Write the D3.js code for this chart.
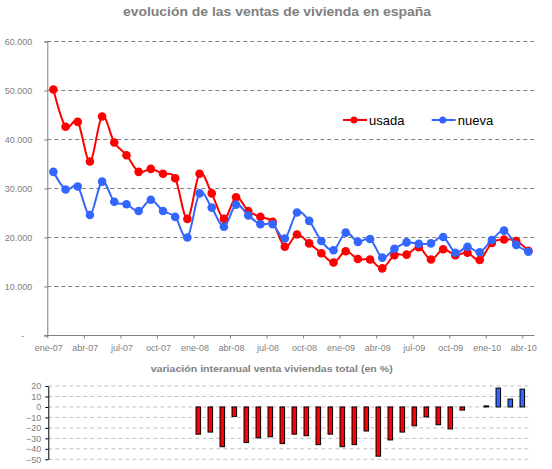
<!DOCTYPE html>
<html>
<head>
<meta charset="utf-8">
<script src="https://cdn.jsdelivr.net/npm/d3@7"></script>
<style>
  body { margin: 0; background: #fff; }
  svg text { font-family: "Liberation Sans", Arial, sans-serif; }
</style>
</head>
<body>
<div id="chart"></div>
<script>
var months = ["ene-07","feb-07","mar-07","abr-07","may-07","jun-07","jul-07","ago-07","sep-07","oct-07","nov-07","dic-07",
  "ene-08","feb-08","mar-08","abr-08","may-08","jun-08","jul-08","ago-08","sep-08","oct-08","nov-08","dic-08",
  "ene-09","feb-09","mar-09","abr-09","may-09","jun-09","jul-09","ago-09","sep-09","oct-09","nov-09","dic-09",
  "ene-10","feb-10","mar-10","abr-10"]

var usada = [50200, 42600, 43600, 35500, 44700, 39400, 36800, 33400, 34000, 33000, 32100, 23800,
  33000, 29000, 23800, 28200, 25400, 24200, 23200, 18100, 20600, 18800, 16800, 14900,
  17200, 15600, 15500, 13700, 16400, 16500, 18000, 15500, 17600, 16400, 16900, 15400,
  18900, 19600, 19300, 17300]

var nueva = [33400, 29800, 30400, 24600, 31400, 27300, 26800, 25400, 27700, 25400, 24200, 20000,
  29000, 26100, 22200, 26700, 24500, 22700, 22700, 19800, 25100, 23400, 19300, 17400,
  21000, 19100, 19700, 15900, 17700, 19000, 18700, 18800, 20100, 16900, 18100, 17000,
  19500, 21400, 18500, 17100]

// variación interanual (%), empieza en ene-08
var variacion = [null, null, null, null, null, null, null, null, null, null, null, null,
  -26, -24, -38, -9, -34, -29.5, -28.5, -35, -26, -27.5, -36, -26,
  -38, -36, -23, -47, -31.5, -24, -18, -9.5, -17, -21, -3, 0,
  1, 18, 7.5, 17]

var yTicks = [0, 10000, 20000, 30000, 40000, 50000, 60000]
var varTicks = [20, 10, 0, -10, -20, -30, -40, -50]
var seriesNames = ["usada", "nueva"]
var seriesColors = ["#ff0000", "#3366ff"]

var width = 552, height = 469

var svg = d3.select("#chart").append("svg")
  .attr("width", width)
  .attr("height", height)

var es = d3.formatLocale({ decimal: ",", thousands: ".", grouping: [3], currency: ["", ""] })
var fmt = es.format(",.0f")

// ---------- top chart ----------
var x = d3.scaleLinear().domain([0, months.length]).range([47.3, 534.5])
var y = d3.scaleLinear().domain([0, 60000]).range([335.5, 41.5])

svg.append("text")
  .attr("x", 277).attr("y", 16)
  .attr("text-anchor", "middle")
  .attr("textLength", 308)
  .attr("lengthAdjust", "spacingAndGlyphs")
  .style("font-size", "12px").style("font-weight", "bold")
  .style("fill", "#808080")
  .text("evolución de las ventas de vivienda en españa")

svg.append("g")
  .selectAll("line")
  .data(yTicks.filter(function (d) { return d > 0 }))
  .enter().append("line")
  .attr("x1", x(0)).attr("x2", x(months.length))
  .attr("y1", function (d) { return y(d) }).attr("y2", function (d) { return y(d) })
  .attr("stroke", "#808080")
  .attr("stroke-dasharray", "4,3")

var yAxis = svg.append("g")
  .attr("transform", "translate(" + x(0) + ",0)")
  .call(d3.axisLeft(y).tickValues(yTicks).tickSize(3).tickPadding(12)
    .tickFormat(function (d) { return d === 0 ? "-" : fmt(d) }))
yAxis.select(".domain").attr("stroke", "#808080")
yAxis.selectAll(".tick line").attr("stroke", "#808080")
yAxis.selectAll(".tick text").style("font-size", "9px").style("fill", "#808080").style("font-family", "Liberation Sans, Arial, sans-serif")
yAxis.selectAll(".tick text").filter(function (d) { return d === 0 }).attr("dx", -8)

var xAxis = svg.append("g")
  .attr("transform", "translate(0," + y(0) + ")")
  .call(d3.axisBottom(x).tickValues(d3.range(0, months.length, 3)).tickSizeInner(3).tickSizeOuter(0).tickPadding(6)
    .tickFormat(function (d) { return months[d] }))
xAxis.select(".domain").attr("stroke", "#808080").attr("d", "M" + (x(0) - 3) + ",0H" + x(months.length))
xAxis.selectAll(".tick line").attr("stroke", "#808080")
xAxis.selectAll(".tick text").attr("dx", 1).style("font-size", "9px").style("fill", "#808080").style("font-family", "Liberation Sans, Arial, sans-serif")

var line = d3.line()
  .x(function (d, i) { return x(i + 0.5) })
  .y(function (d) { return y(d) })
  .curve(d3.curveCatmullRom.alpha(0))

;[usada, nueva].forEach(function (values, s) {
  var g = svg.append("g")
  g.append("path")
    .attr("d", line(values))
    .attr("fill", "none")
    .attr("stroke", seriesColors[s])
    .attr("stroke-width", 2)
  g.selectAll("circle")
    .data(values)
    .enter().append("circle")
    .attr("cx", function (d, i) { return x(i + 0.5) })
    .attr("cy", function (d) { return y(d) })
    .attr("r", 4.3)
    .attr("fill", seriesColors[s])
})

// legend
var legendX = [343, 431.7]
seriesNames.forEach(function (name, s) {
  var lg = svg.append("g").attr("transform", "translate(" + legendX[s] + ",120)")
  lg.append("line").attr("x1", 0).attr("x2", 24).attr("stroke", seriesColors[s]).attr("stroke-width", 2)
  lg.append("circle").attr("cx", 11).attr("r", 3.5).attr("fill", seriesColors[s])
  lg.append("text").attr("x", 26).attr("y", 5)
    .style("font-size", "13px").style("fill", "#000")
    .text(name)
})

// ---------- bottom chart ----------
var xb = d3.scaleBand().domain(d3.range(months.length)).range([48.3, 528.3]).paddingInner(0.62).paddingOuter(0.31)
var yb = d3.scaleLinear().domain([-50, 20]).range([459.3, 386])

svg.append("text")
  .attr("x", 271.7).attr("y", 372)
  .attr("text-anchor", "middle")
  .attr("textLength", 242)
  .attr("lengthAdjust", "spacingAndGlyphs")
  .style("font-size", "9.5px").style("font-weight", "bold")
  .style("fill", "#808080")
  .text("variación interanual venta viviendas total (en %)")

svg.append("g")
  .selectAll("line")
  .data(varTicks)
  .enter().append("line")
  .attr("x1", 48.3).attr("x2", 528.7)
  .attr("y1", function (d) { return yb(d) }).attr("y2", function (d) { return yb(d) })
  .attr("stroke", "#c0c0c0")
  .attr("stroke-dasharray", "4,3")

var bAxis = svg.append("g")
  .attr("transform", "translate(48.3,0)")
  .call(d3.axisLeft(yb).tickValues(varTicks).tickSize(3).tickPadding(4).tickSizeOuter(0))
bAxis.select(".domain").attr("stroke", "#000")
bAxis.selectAll(".tick line").attr("stroke", "#000")
bAxis.selectAll(".tick text").style("font-size", "9px").style("fill", "#808080").style("font-family", "Liberation Sans, Arial, sans-serif")

svg.append("g")
  .selectAll("rect")
  .data(variacion.map(function (v, i) { return { i: i, v: v } }).filter(function (d) { return d.v !== null && d.v !== 0 }))
  .enter().append("rect")
  .attr("x", function (d) { return xb(d.i) })
  .attr("width", xb.bandwidth())
  .attr("y", function (d) { return yb(Math.max(0, d.v)) })
  .attr("height", function (d) { return Math.abs(yb(d.v) - yb(0)) })
  .attr("fill", function (d) { return d.v < 0 ? "#ff0000" : "#3366ff" })
  .attr("stroke", "#000")
  .attr("stroke-width", 1)
</script>
</body>
</html>
